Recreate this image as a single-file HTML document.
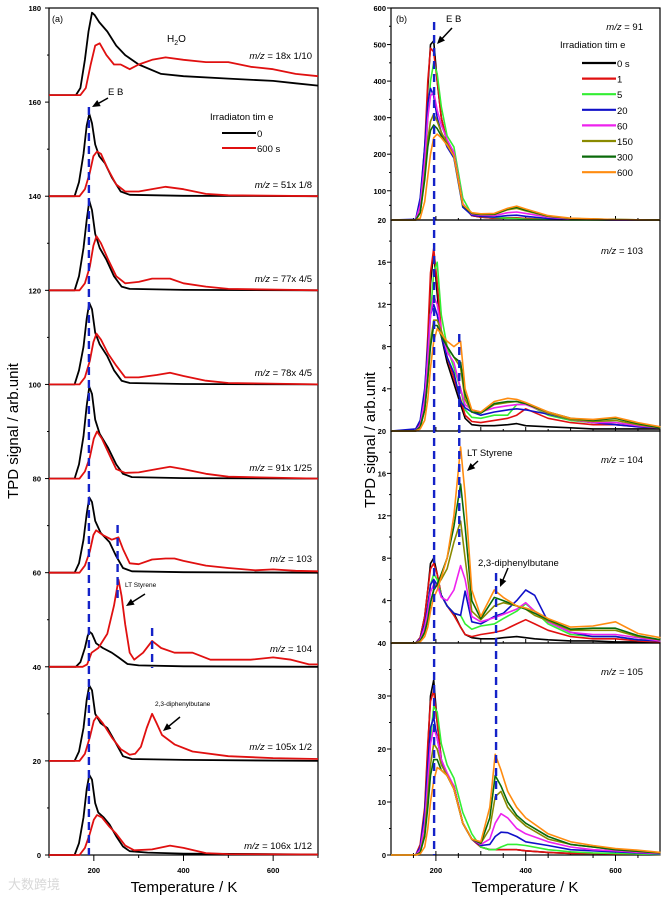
<!DOCTYPE html>
<html><head><meta charset="utf-8"><style>
html,body{margin:0;padding:0;background:#fff;}
svg{display:block;font-family:"Liberation Sans",Arial,sans-serif;}
</style></head><body>
<svg id="fig" width="662" height="898" viewBox="0 0 662 898" xmlns="http://www.w3.org/2000/svg"></svg>
<script>
// ---------- Panel (a) data: [T, value] pairs ----------
const h2oBlack=[[100,161.5],[160,161.5],[170,163],[180,169],[188,175],[196,179],[202,178.5],[212,177],[230,175],[250,172],[270,170],[300,168],[350,166],[400,165.5],[500,165],[600,164.5],[650,164],[700,163.5]];
const h2oRed=[[100,161.5],[170,161.5],[182,163],[193,168],[203,172],[213,172.5],[228,170],[245,168],[260,168],[280,167],[300,168],[330,169],[360,169.5],[400,169],[450,168.5],[500,168.5],[550,167.5],[600,167],[650,166],[700,165.5]];
const m51Black=[[100,140],[157,140],[167,143],[177,149],[184,155],[190,157.5],[196,155.5],[203,151],[212,148.5],[225,147],[240,144],[260,141],[280,140.3],[400,140.1],[700,140]];
const m51Red=[[100,140],[168,140],[180,141.5],[191,145],[199,148.5],[207,149.5],[216,149],[230,146],[250,142.5],[270,141],[300,141],[360,142],[400,141.5],[450,140.5],[500,140.2],[700,140]];
const m77Black=[[100,120],[157,120],[167,123],[177,129],[184,135],[190,139],[196,137],[203,132],[213,129],[228,126.5],[245,123],[262,120.8],[280,120.3],[400,120.1],[700,120]];
const m77Red=[[100,120],[168,120],[180,121.5],[191,125],[199,129.5],[206,131.5],[216,130],[232,126.5],[250,123],[270,121.5],[300,121.8],[330,122.5],[370,122.5],[400,121.5],[450,120.8],[500,120.3],[700,120]];
const m78Black=[[100,100],[157,100],[167,103],[177,108],[184,114],[190,117.3],[196,116],[203,111],[213,108.5],[230,106],[245,103],[262,100.8],[280,100.3],[400,100.1],[700,100]];
const m78Red=[[100,100],[168,100],[180,101.5],[191,105],[199,109],[206,110.8],[216,109.5],[232,106.5],[250,104],[270,101.5],[300,101.5],[340,102],[370,102.5],[400,101.8],[450,100.8],[500,100.3],[700,100]];
const m91Black=[[100,80],[157,80],[167,83],[177,89],[184,95.5],[190,99.5],[196,98],[203,92.5],[213,89.5],[232,86.5],[250,83],[265,81],[285,80.3],[400,80.1],[700,80]];
const m91Red=[[100,80],[168,80],[180,81.5],[191,84.5],[200,88.5],[207,90],[218,88.5],[235,85],[250,82],[270,81.2],[300,81.3],[340,82],[370,82.5],[400,82],[450,81],[500,80.4],[700,80]];
const m103Black=[[100,60],[157,60],[167,62],[177,67],[184,72.5],[190,76],[196,75],[203,71],[215,68.5],[235,66.5],[250,63.5],[265,61],[285,60.3],[400,60.1],[700,60]];
const m103Red=[[100,60],[168,60],[180,61.5],[191,64.5],[199,68],[205,69],[220,68],[240,67],[255,67.5],[265,65],[280,62],[300,61.8],[330,62.8],[360,63],[380,63],[400,62.5],[450,61.5],[500,61],[560,60.5],[600,60.7],[650,60.4],[700,60.3]];
const m104Black=[[100,40],[160,40],[170,41],[180,44],[186,46.5],[190,47.5],[196,47],[205,45],[220,44],[240,43],[255,42],[275,40.6],[300,40.3],[400,40.1],[700,40]];
const m104Red=[[100,40],[175,40],[185,40.5],[195,43],[210,44],[230,47],[245,53],[255,58.5],[262,55],[270,49],[280,43],[290,41.5],[310,43],[330,45.5],[350,44],[380,43],[420,43],[460,41.5],[550,41.5],[600,42],[640,41.5],[680,40.5],[700,40.5]];
const m105Black=[[100,20],[157,20],[167,22],[177,27],[184,33],[190,36],[196,35],[203,30],[215,28],[230,27],[248,24],[265,21],[285,20.4],[400,20.2],[700,20]];
const m105Red=[[100,20],[168,20],[180,21.5],[191,25],[200,28.5],[207,29.5],[220,28],[240,25],[260,22.5],[280,21.3],[292,21.5],[305,23],[318,27],[330,30],[340,28],[352,25.5],[380,23.5],[420,22],[500,21],[600,20.6],[700,20.4]];
const m106Black=[[100,0],[157,0],[167,2.5],[177,8],[184,14],[190,17],[196,16],[203,11],[210,9],[222,8],[235,6.5],[250,4],[265,1.8],[280,0.8],[320,0.5],[400,0.3],[700,0.1]];
const m106Red=[[100,0],[168,0],[180,1.5],[191,4.5],[200,7.5],[207,8.5],[218,8],[235,6],[250,4.5],[270,2],[290,1],[330,1.2],[370,2],[400,1.5],[450,0.4],[500,0.2],[700,0.1]];
const leftTicksY=[0,20,40,60,80,100,120,140,160,180];
const xTicks=[200,400,600];

// ---------- Panel (b) data ----------
const seriesNames=['0 s','1','5','20','60','150','300','600'];
const seriesColors=['#000000','#e01010','#33ee33','#1010c8','#ee22ee','#8a8a00','#0a6a0a','#ff8c10'];
const gridT91=[100,155,165,175,182,188,195,203,212,225,240,260,280,300,330,360,380,400,450,500,600,700];
const m91_0=[20,20,60,200,380,500,510,400,300,230,195,60,32,28,25,25,25,24,22,21,20,20];
const m91_1=[20,20,70,220,400,490,480,400,300,235,200,60,32,28,25,26,26,24,22,21,20,20];
const m91_5=[20,20,40,140,300,400,450,420,330,250,220,80,35,30,27,25,24,22,21,20,20,20];
const m91_20=[20,22,80,220,340,380,360,300,260,220,190,55,33,30,28,32,33,30,24,22,20,20];
const m91_60=[20,20,60,180,300,360,370,320,280,240,205,65,36,33,32,40,42,38,28,23,20,20];
const m91_150=[20,20,40,140,240,290,310,290,260,230,195,60,38,35,35,48,52,45,30,24,21,20];
const m91_300=[20,20,40,130,220,265,280,270,250,225,195,60,38,35,36,50,55,47,31,24,21,20];
const m91_600=[20,20,25,70,140,200,245,255,245,225,195,62,40,37,38,52,58,50,32,25,21,20];
const gridT103=[100,155,165,175,182,188,195,203,212,225,240,255,265,280,300,330,360,380,400,450,500,550,600,650,700];
const m103_0=[0,0,0.5,3,8,14,17,13,9,6.5,4.5,2.5,1.2,0.6,0.5,0.5,0.6,0.7,0.5,0.4,0.3,0.2,0.2,0.2,0.2];
const m103_1=[0,0,0.8,3.5,9,15,17.3,14,9.5,7,5,3,1.5,0.9,0.8,1,1.2,1.5,2.1,1.2,0.8,0.6,0.6,0.4,0.3];
const m103_5=[0,0,0.3,2,6,11,15,16,11,8,6,4,2,1.3,1.2,1.5,1.5,2.5,2.6,1.5,1,0.8,0.8,0.5,0.3];
const m103_20=[0,0.2,1,4,8,11,12,11,9,7,5.5,2.8,2.2,1.8,1.5,1.8,2,2.1,2,1.6,1.1,0.8,0.6,0.4,0.3];
const m103_60=[0,0,0.6,3,7,11,12.8,12,9.5,7.5,6.5,4,2.5,2,1.8,2.2,2.4,2.5,2.5,1.7,1.1,0.8,0.8,0.5,0.3];
const m103_150=[0,0,0.4,2,5,8.5,10.5,10.5,9.5,8,7,6,3,1.8,1.7,2.5,2.7,2.8,2.6,1.7,1.1,0.9,1,0.6,0.3];
const m103_300=[0,0,0.4,2,5,8,10,10,9,8,7,6.5,3.5,1.8,1.7,2.6,2.8,2.8,2.6,1.8,1.2,1,1.2,0.7,0.3];
const m103_600=[0,0,0.2,1,3,6,8.5,9.7,9.2,8.5,8,8.5,4,2,1.8,2.8,3.1,3,2.7,1.8,1.2,1.1,1.3,0.8,0.4];
const gridT104=[100,155,165,175,182,188,195,203,212,225,240,255,265,280,300,330,350,380,400,420,450,500,550,600,650,700];
const m104_0=[0,0,0.5,2.5,5,7.5,8,6.5,4.5,3.5,2.8,1.5,0.8,0.5,0.4,0.4,0.5,0.6,0.5,0.4,0.3,0.2,0.2,0.1,0.1,0.1];
const m104_1=[0,0,0.5,2.5,5,7,7.5,6.5,4.5,3.5,2.6,1.5,0.8,0.6,0.8,1.0,1.2,1.8,2.2,1.8,1.2,0.6,0.4,0.4,0.2,0.1];
const m104_5=[0,0,0.3,1.5,3.5,5.5,6.5,6,4.5,3.5,2.8,2.6,1.8,1.3,1.6,1.8,2.3,3,3.7,3,1.8,0.8,0.6,0.6,0.3,0.2];
const m104_20=[0,0,0.4,1.8,3.5,5.5,6,5.5,4.5,3.5,2.8,2.6,4.9,2,1.8,2.5,2.8,4,5,4.5,2,1,0.6,0.6,0.3,0.2];
const m104_60=[0,0,0.3,1.5,3,4.8,5.5,5.5,4.3,4,5,7.3,6,2.5,2,2.4,2.7,3.2,3.8,3,2,1,0.8,0.8,0.5,0.2];
const m104_150=[0,0,0.2,1,2.2,3.8,5,5.5,6,7,9.5,11.5,8,3,2.2,3.5,3.8,3.5,3.2,2.6,2.1,1.2,1.2,1.2,0.6,0.3];
const m104_300=[0,0,0.2,1,2.2,3.8,5,5.5,6.5,8,11,15,11,4,2.3,4.3,4,3.5,3.2,2.8,2.2,1.3,1.4,1.4,0.7,0.3];
const m104_600=[0,0,0.1,0.6,1.5,3,4.3,5,6.2,8,12,18.5,14,5,2.5,5,4.3,3.5,3.3,3.0,2.3,1.5,1.6,2,0.9,0.5];
const gridT105=[100,155,165,175,182,188,195,203,212,225,240,260,280,300,320,332,345,360,380,400,450,500,550,600,650,700];
const m105_0=[0,0,1.5,8,20,30,33,25,18,15,13,6,3,1.5,1,1,1,1,1,0.8,0.5,0.3,0.3,0.2,0.2,0.1];
const m105_1=[0,0,2,9,21,29,31,25,18,15,13,6,3,1.5,1,1,1,1,1,0.8,0.5,0.3,0.3,0.2,0.2,0.1];
const m105_5=[0,0,0.5,4,13,22,28,27,21,17,14.5,8,4,1.5,1,1,1.5,2,2,1.8,1,0.6,0.4,0.3,0.2,0.1];
const m105_20=[0,0,1.5,8,17,24,26,22,18,15,12.5,6,3,1.8,2,3.5,4.3,4.2,3.5,2.5,1.8,1,0.8,0.6,0.4,0.2];
const m105_60=[0,0,1,6,14,21,24,22,18,15.5,13,6,3,2,3,6,7.8,7,5,4,2.5,1.5,1,0.8,0.5,0.3];
const m105_150=[0,0,0.5,4,11,17,21,20,17,15,12.5,6,3,2.2,5,11,12,9,7,5.5,3,2,1.5,1,0.7,0.4];
const m105_300=[0,0,0.5,3.5,9,15,18,18,16,15,12.5,6,3,2.2,7,15,13,10,7.5,6,3.5,2,1.5,1,0.7,0.4];
const m105_600=[0,0,0.2,1.5,5,10,14,16.5,16,15,12.5,6,3,2.5,9,19,16,12,9,7,4,2.5,1.8,1.2,0.9,0.5];

const NS='http://www.w3.org/2000/svg';
const svg=document.getElementById('fig');
function mk(tag,attrs,parent){const e=document.createElementNS(NS,tag);for(const k in attrs)e.setAttribute(k,attrs[k]);(parent||svg).appendChild(e);return e;}
function txt(x,y,s,size,anchor,parent,extra){const t=mk('text',Object.assign({x:x,y:y,'font-size':size,'text-anchor':anchor||'start',fill:'#000'},extra||{}),parent);t.textContent=s;return t;}

// axis functions
const xA=T=>49+(T-100)*0.4483;
const yA=v=>855-v*(847/180);
const xB=T=>391+(T-100)*0.449;
function yLin(top,bot,vmin,vmax){return v=>bot-(v-vmin)*(bot-top)/(vmax-vmin);}
const panelsB=[
 {y:yLin(8,220,20,600),top:8,bot:220,grid:gridT91,data:[m91_0,m91_1,m91_5,m91_20,m91_60,m91_150,m91_300,m91_600],ticks:[[600,'600'],[500,'500'],[400,'400'],[300,'300'],[200,'200'],[100,'100']],minor:[550,450,350,250,150,60],name:'mz91'},
 {y:yLin(220,431,0,20),top:220,bot:431,grid:gridT103,data:[m103_0,m103_1,m103_5,m103_20,m103_60,m103_150,m103_300,m103_600],ticks:[[16,'16'],[12,'12'],[8,'8'],[4,'4']],minor:[18,14,10,6,2],name:'mz103'},
 {y:yLin(431,643,0,20),top:431,bot:643,grid:gridT104,data:[m104_0,m104_1,m104_5,m104_20,m104_60,m104_150,m104_300,m104_600],ticks:[[16,'16'],[12,'12'],[8,'8'],[4,'4']],minor:[18,14,10,6,2],name:'mz104'},
 {y:yLin(643,855,0,40),top:643,bot:855,grid:gridT105,data:[m105_0,m105_1,m105_5,m105_20,m105_60,m105_150,m105_300,m105_600],ticks:[[30,'30'],[20,'20'],[10,'10'],[0,'0']],minor:[35,25,15,5],name:'mz105'}
];

// ---------- Panel (a) ----------
const gA=mk('g',{});


const frameA=mk('rect',{x:49,y:8,width:269,height:847,fill:'none',stroke:'#000','stroke-width':1.2},gA);


leftTicksY.forEach(v=>{
  const tk=mk('line',{x1:45,x2:49,y1:yA(v),y2:yA(v),stroke:'#000'},gA);
  
  
  const lb=txt(41,yA(v)+3,String(v),7.5,'end',gA,{'font-weight':'bold'});
  
  
  if(v<180){const mn=mk('line',{x1:47,x2:49,y1:yA(v+10),y2:yA(v+10),stroke:'#000'},gA);
  
  }
});
[100,200,300,400,500,600,700].forEach(T=>{
  const tk=mk('line',{x1:xA(T),x2:xA(T),y1:855,y2:T%200===0?861:858,stroke:'#000'},gA);
  
  
});
xTicks.forEach(T=>{const l=txt(xA(T),873,String(T),7.5,'middle',gA,{'font-weight':'bold'});
  
  });
function lineA(pts,color,name){
  const p=mk('polyline',{points:pts.map(q=>xA(q[0]).toFixed(1)+','+yA(q[1]).toFixed(1)).join(' '),fill:'none',stroke:color,'stroke-width':1.8,'stroke-linejoin':'round'},gA);
  
  
}
const leftSeries=[[h2oBlack,h2oRed,'h2o'],[m51Black,m51Red,'mz51'],[m77Black,m77Red,'mz77'],[m78Black,m78Red,'mz78'],[m91Black,m91Red,'mz91'],[m103Black,m103Red,'mz103'],[m104Black,m104Red,'mz104'],[m105Black,m105Red,'mz105'],[m106Black,m106Red,'mz106']];
leftSeries.forEach(s=>{lineA(s[0],'#000',s[2]+'-0s-line');lineA(s[1],'#e01010',s[2]+'-600s-line');});
function dash(x,y1,y2,name){const d=mk('line',{x1:x,x2:x,y1:y1,y2:y2,stroke:'#1422c8','stroke-width':2.4,'stroke-dasharray':'8,5'});
  
  }
dash(xA(189),107,855,'eb-dash-a');dash(xA(253),525,598,'styrene-dash-a');dash(xA(330),628,668,'diphenylbutane-dash-a');
function arrow(x1,y1,x2,y2,name){const a=mk('g',{});
  
  
  const ang=Math.atan2(y2-y1,x2-x1),L=8,W=3.5;
  mk('line',{x1:x1,y1:y1,x2:x2-Math.cos(ang)*5,y2:y2-Math.sin(ang)*5,stroke:'#000','stroke-width':1.5},a);
  const bx=x2-Math.cos(ang)*L,by=y2-Math.sin(ang)*L;
  mk('polygon',{points:`${x2},${y2} ${bx-Math.sin(ang)*W},${by+Math.cos(ang)*W} ${bx+Math.sin(ang)*W},${by-Math.cos(ang)*W}`,fill:'#000'},a);}
arrow(108,98,92,107,'eb-arrow-a');arrow(145,594,126,606,'styrene-arrow-a');arrow(180,717,163,731,'diphenylbutane-arrow-a');
const labsA=[['(a)',52,22,9,'start','panel-a-label'],['E B',108,95,9.5,'start','eb-label-a'],['Irradiaton tim e',210,120,9.5,'start','legend-title-a'],['0',257,137,9.5,'start','legend-0-label'],['600 s',257,152,9.5,'start','legend-600-label'],['LT Styrene',125,587,6.5,'start','styrene-label-a'],['2,3-diphenylbutane',155,706,6.5,'start','diphenylbutane-label-a']];
labsA.forEach(l=>{const t=txt(l[1],l[2],l[0],l[3],l[4],gA);});
const h=txt(167,42,'H',10,'start',gA);
const hs=mk('tspan',{'font-size':7,dy:3},h);hs.textContent='2';const ho=mk('tspan',{dy:-3},h);ho.textContent='O';
const lg0=mk('line',{x1:222,x2:256,y1:133,y2:133,stroke:'#000','stroke-width':2},gA);

const lg1=mk('line',{x1:222,x2:256,y1:148,y2:148,stroke:'#e01010','stroke-width':2},gA);

const mzA=[['18x 1/10',59],['51x 1/8',188],['77x 4/5',282],['78x 4/5',376],['91x 1/25',471],['103',562],['104',652],['105x 1/2',750],['106x 1/12',849]];
mzA.forEach(m=>{const t=txt(312,m[1],'',9.5,'end',gA);
  const i=mk('tspan',{'font-style':'italic'},t);i.textContent='m/z';const r=mk('tspan',{},t);r.textContent=' = '+m[0];});
const yt=txt(0,0,'TPD signal / arb.unit',15,'middle',svg,{transform:'translate(18,431) rotate(-90)'});

const xt=txt(184,892,'Temperature / K',15,'middle');


// ---------- Panel (b) ----------
const gB=mk('g',{});


panelsB.forEach((P,pi)=>{
  const fr=mk('rect',{x:391,y:P.top,width:269,height:P.bot-P.top,fill:'none',stroke:'#000','stroke-width':1.2},gB);
  
  const bl=txt(386,P.bot+3,pi===3?'0':['20','20','40'][pi],7.5,'end',gB,{'font-weight':'bold'});
  
  P.ticks.forEach(t=>{const tk=mk('line',{x1:387,x2:391,y1:P.y(t[0]),y2:P.y(t[0]),stroke:'#000'},gB);
    
    if(!(pi===3&&t[0]===0)){const l=txt(386,P.y(t[0])+3,t[1],7.5,'end',gB,{'font-weight':'bold'});
    }});
  P.minor.forEach(v=>{const mn=mk('line',{x1:389,x2:391,y1:P.y(v),y2:P.y(v),stroke:'#000'},gB);
    });
  [150,200,250,300,350,400,450,500,550,600,650].forEach(T=>{const tk=mk('line',{x1:xB(T),x2:xB(T),y1:P.bot,y2:P.bot-(T%100===0?4:2),stroke:'#000'},gB);
    });
  P.data.forEach((arr,si)=>{
    const p=mk('polyline',{points:arr.map((v,k)=>xB(P.grid[k]).toFixed(1)+','+P.y(v).toFixed(1)).join(' '),fill:'none',stroke:seriesColors[si],'stroke-width':1.6,'stroke-linejoin':'round'},gB);
    
    
  });
});
[150,250,350,450,550,650].forEach(T=>{const tk=mk('line',{x1:xB(T),x2:xB(T),y1:855,y2:858,stroke:'#000'},gB);
  });
xTicks.forEach(T=>{const tk=mk('line',{x1:xB(T),x2:xB(T),y1:855,y2:861,stroke:'#000'},gB);
  
  const l=txt(xB(T),873,String(T),7.5,'middle',gB,{'font-weight':'bold'});
  });
dash(xB(196),22,855,'eb-dash-b');dash(xB(252),334,545,'styrene-dash-b');dash(xB(334),573,800,'diphenylbutane-dash-b');
arrow(452,28,437,44,'eb-arrow-b');arrow(478,461,467,471,'styrene-arrow-b');arrow(508,568,500,587,'diphenylbutane-arrow-b');
const labsB=[['(b)',396,22,9,'start','panel-b-label'],['E B',446,22,9.5,'start','eb-label-b'],['Irradiation tim e',560,48,9.5,'start','legend-title-b'],['LT Styrene',467,456,9.5,'start','styrene-label-b'],['2,3-diphenylbutane',478,566,9.5,'start','diphenylbutane-label-b']];
labsB.forEach(l=>{const t=txt(l[1],l[2],l[0],l[3],l[4],gB);});
[['91',26],['103',250],['104',459],['105',671]].forEach(m=>{const t=txt(643,m[1]+4,'',9.5,'end',gB);
  const i=mk('tspan',{'font-style':'italic'},t);i.textContent='m/z';const r=mk('tspan',{},t);r.textContent=' = '+m[0];});
seriesNames.forEach((n,i)=>{const y=63+i*15.6;
  const sw=mk('line',{x1:582,x2:616,y1:y,y2:y,stroke:seriesColors[i],'stroke-width':2.2},gB);
  
  const t=txt(617,y+4,n,9.5,'start',gB);});
const yt2=txt(0,0,'TPD signal / arb.unit',15,'middle',svg,{transform:'translate(375,440) rotate(-90)'});

const xt2=txt(525,892,'Temperature / K',15,'middle');

const wm=txt(8,889,'大数跨境',13,'start',svg,{fill:'#d8d8d8','font-family':'"Liberation Sans","Noto Sans CJK SC",sans-serif'});

</script>
</body></html>
